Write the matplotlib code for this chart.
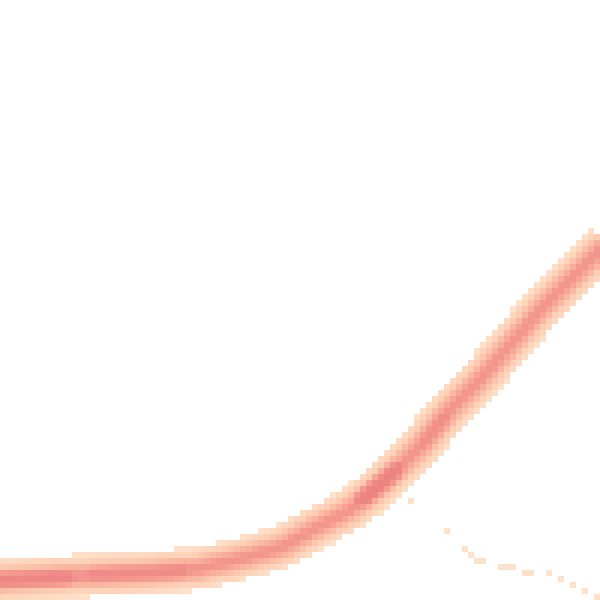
import matplotlib
matplotlib.use("Agg")
import matplotlib.pyplot as plt
import numpy as np
from matplotlib.backends.backend_agg import FigureCanvasAgg
from matplotlib.colors import LinearSegmentedColormap
from matplotlib.figure import Figure

# centre line of the dense band (data units, 0-100 on both axes)
main_x = [-2, 0, 8, 17, 25, 33, 40, 47, 50, 53, 58, 61, 64, 70, 75, 80, 85, 90, 95, 100, 103]
main_y = [3.2, 3.3, 3.7, 4.2, 4.5, 5.2, 6.8, 8.8, 10.5, 12.2, 14.8, 17.0, 19.7, 25.5, 31.7, 36.7, 42.5, 48.3, 53.3, 58.3, 61.5]

# short stretches where the band is denser (start/end points)
hot_x0 = [0, 16, 60.5, 71]
hot_x1 = [11, 30, 66, 74]
hot_y0 = [3.3, 4.2, 17.0, 26.5]
hot_y1 = [3.7, 4.7, 21.5, 30.0]
hot_w = [0.22, 0.14, 0.3, 0.1]

# sparse lower branch
tail_x = [68.0, 74.3, 77.9, 78.8, 79.4, 80.4, 83.3, 84.3, 85.3, 87.6, 88.4, 91.3, 93.9, 95.8, 97.9, 99.6]
tail_y = [16.8, 11.3, 8.7, 7.8, 6.8, 6.8, 5.8, 5.8, 5.8, 4.8, 4.8, 4.0, 3.1, 2.3, 1.3, 0.4]

NBIN = 100

# draw the band on a 100x100 pixel canvas, one pixel per bin
small = Figure(figsize=(1, 1), dpi=NBIN)
canvas = FigureCanvasAgg(small)
sax = small.add_axes([0, 0, 1, 1])
sax.set_xlim(0, 100)
sax.set_ylim(0, 100)
sax.axis("off")
px = 72.0 / NBIN
for lw, a in [(6.5, 0.16), (4.0, 0.22), (1.8, 0.28)]:
    sax.plot(main_x, main_y, color="black", lw=lw * px, alpha=a,
             solid_capstyle="butt")
for x0, x1, y0, y1, w in zip(hot_x0, hot_x1, hot_y0, hot_y1, hot_w):
    sax.plot([x0, x1], [y0, y1], color="black", lw=2.8 * px, alpha=w,
             solid_capstyle="round")
canvas.draw()
buf = np.asarray(canvas.buffer_rgba())[:, :, 0].astype(float)
density = 1.0 - buf / 255.0

H, _, _ = np.histogram2d(tail_x, tail_y, bins=NBIN, range=[[0, 100], [0, 100]])
density = density + 0.04 * H.T[::-1]
density = np.ma.masked_less(density, 0.025)

cmap = LinearSegmentedColormap.from_list(
    "band", ["#fee3cb", "#fdd3b9", "#fbbaa4", "#f6a093", "#ef8b88", "#e97b7e"])

fig = plt.figure(figsize=(6, 6), dpi=100)
ax = fig.add_axes([0, 0, 1, 1])
ax.imshow(density, cmap=cmap, vmin=0.025, vmax=0.75, interpolation="nearest",
          extent=[0, 100, 0, 100], origin="upper", aspect="auto")
ax.set_xlim(0, 100)
ax.set_ylim(0, 100)
ax.axis("off")
fig.savefig("out.png", dpi=100, facecolor="white")
